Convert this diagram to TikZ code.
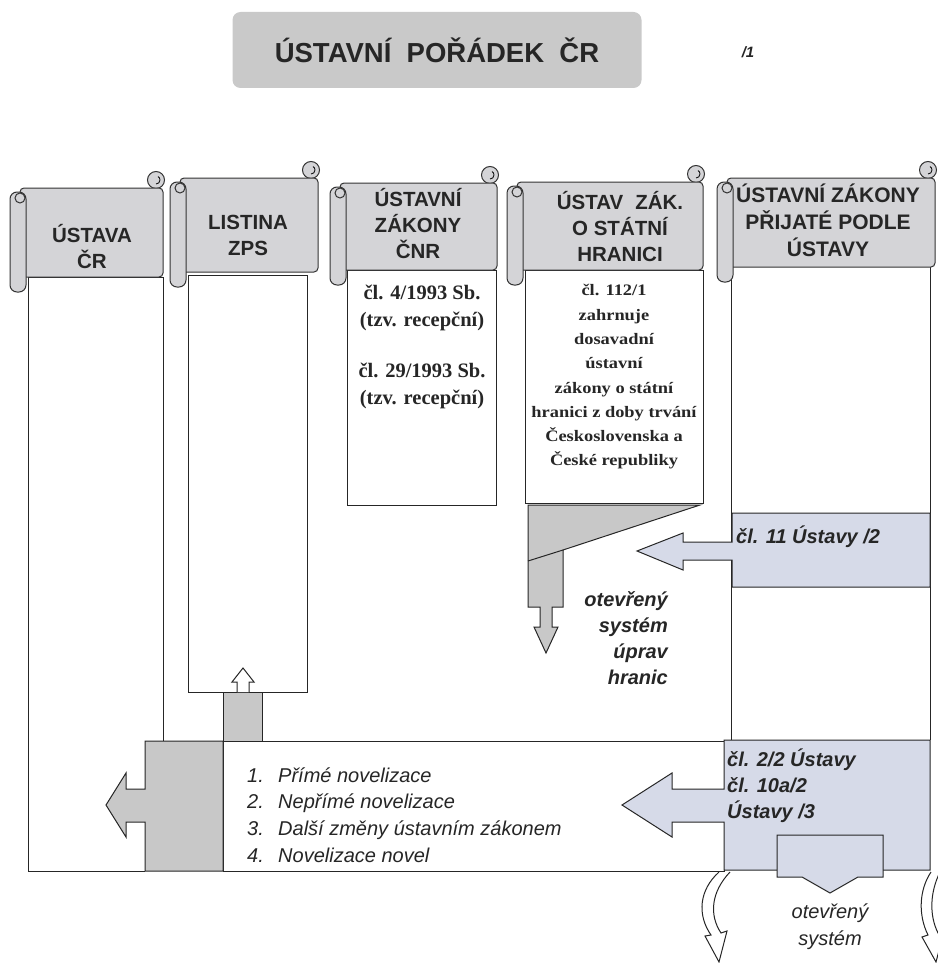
\documentclass[tikz,border=0pt]{standalone}
\usepackage{fontspec}
\setmainfont{Liberation Sans}
\newfontfamily\lawfont{Liberation Serif}
\newfontfamily\lawwide[FakeStretch=1.15]{Liberation Serif}
\usetikzlibrary{positioning}
\definecolor{titlegray}{HTML}{C9C9C9}
\definecolor{scrollgray}{HTML}{D4D4D7}
\definecolor{arrowgray}{HTML}{C8C8C8}
\definecolor{bandblue}{HTML}{D6DAE8}
\tikzstyle{titlebox} = [rectangle, rounded corners=8pt, fill=titlegray, minimum width=409pt, minimum height=76pt, font=\bfseries\fontsize{27.5}{30}\selectfont, text=black!85]
\tikzstyle{colbox} = [draw=black!85, fill=white, line width=1pt]
\tikzstyle{scrollpart} = [draw=black!80, fill=scrollgray, line width=1pt]
\tikzstyle{grayblock} = [draw=black!85, fill=arrowgray, line width=1pt]
\tikzstyle{blueblock} = [draw=black!85, fill=bandblue, line width=1pt]
\tikzstyle{headtext} = [font=\bfseries\fontsize{20.5}{26}\selectfont, align=center, text=black!85]
\tikzstyle{lawtext} = [font=\lawfont\bfseries\fontsize{20.5}{27}\selectfont, align=center, text=black!85]
\tikzstyle{lawwidetext} = [font=\lawwide\bfseries\fontsize{16}{24.3}\selectfont, align=center, text=black!85]
\tikzstyle{notetext} = [font=\bfseries\itshape\fontsize{20}{26}\selectfont, text=black!85, inner sep=2pt]
\tikzstyle{listtext} = [font=\itshape\fontsize{20}{26.7}\selectfont, text=black!85, inner sep=2pt]
% scroll header: left, right, top, bottom
\newcommand{\scrollhead}[4]{%
  \draw[scrollpart] (#2-7,#3-8) circle (8.5);
  \draw[line width=0.8pt] (#2-7,#3-4) arc[start angle=90, end angle=-60, radius=4];
  \draw[scrollpart, rounded corners=4pt] (#1+10,#3) -- (#2,#3) -- (#2,#4) -- (#1+10,#4) -- cycle;
  \draw[scrollpart, rounded corners=7pt] (#1,#3+4) rectangle (#1+16,#4+15);
  \draw[scrollpart] (#1+10,#3+10) circle (5);
}

\begin{document}
\begin{tikzpicture}[x=1pt, y=-1pt, node distance=25pt]
    \useasboundingbox (0,0) rectangle (937,963);

    \node (title) [titlebox] at (437,50) {ÚSTAVNÍ\ \ POŘÁDEK\ \ ČR};
    \node (pagenum) [font=\bfseries\itshape\fontsize{15}{18}\selectfont, text=black!85] at (748,52) {/1};

    % column boxes
    \draw[colbox] (163,741) -- (163,277) -- (28,277) -- (28,871) -- (145,871);
    \draw[colbox] (188,275) rectangle (307,692);
    \draw[colbox] (347,270) rectangle (496,505);
    \draw[colbox] (525,270) rectangle (703,503);
    \draw[colbox] (731,740) -- (731,265) -- (930,265) -- (930,740);
    \draw[colbox] (223,741) rectangle (724,871);

    % novelizace -> ustava, listina
    \draw[grayblock] (223,741) -- (145,741) -- (145,789) -- (126,789) -- (126,773) -- (106,805) -- (126,837) -- (126,822) -- (145,822) -- (145,871) -- (223,871) -- cycle;
    \draw[grayblock] (223,741) rectangle (262,692);
    \draw[colbox] (237,692) -- (237,682) -- (232,682) -- (243,668) -- (254,682) -- (249,682) -- (249,692);

    % hranice wedge
    \draw[grayblock] (528,505) -- (700,505) -- (563,550) -- (563,607) -- (552,607) -- (552,627) -- (558,627) -- (546,653) -- (534,627) -- (540,627) -- (540,607) -- (528,607) -- cycle;
    \draw[line width=1pt, draw=black!85] (563,550) -- (528,561);

    % cl. 11 band
    \draw[blueblock] (930,513) -- (732,513) -- (732,542) -- (683,542) -- (683,533) -- (637,551) -- (683,570) -- (683,560) -- (732,560) -- (732,587) -- (930,587) -- cycle;

    % cl. 2/2 and 10a/2 block
    \draw[blueblock] (930,740) -- (724,740) -- (724,789) -- (672,789) -- (672,773) -- (622,805) -- (672,837) -- (672,822) -- (724,822) -- (724,870) -- (930,870) -- cycle;
    \draw[blueblock] (777,835) -- (883,835) -- (883,877) -- (858,877) -- (830,893) -- (802,877) -- (777,877) -- cycle;

    % curled arrows
    \draw[colbox] (719,872) .. controls (699,890) and (697,915) .. (711,935) -- (705,936) -- (719,962) -- (727,931) -- (721,933) .. controls (709,915) and (711,892) .. (730,872);
    \draw[colbox] (931,872) .. controls (919,890) and (918,915) .. (928,935) -- (922,937) -- (936,962) -- (944,931) -- (938,933) .. controls (929,915) and (930,892) .. (940,872);

    % scroll headers
    \scrollhead{10}{163}{188}{277}
    \scrollhead{170}{318}{178}{272}
    \scrollhead{330}{497}{183}{270}
    \scrollhead{507}{703}{182}{270}
    \scrollhead{717}{935}{178}{267}

    \node (headUstava) [headtext] at (92,247) {ÚSTAVA\\ČR};
    \node (headListina) [headtext] at (248,235) {LISTINA\\ZPS};
    \node (headCnr) [headtext] at (418,224) {ÚSTAVNÍ\\ZÁKONY\\ČNR};
    \node (headHranice) [headtext] at (620,227) {ÚSTAV\hspace{12pt}ZÁK.\\O STÁTNÍ\\HRANICI};
    \node (headPrijate) [headtext, font=\bfseries\fontsize{21}{27}\selectfont] at (828,220) {ÚSTAVNÍ ZÁKONY\\PŘIJATÉ PODLE\\ÚSTAVY};

    \node (cnrA) [lawtext] at (422,308) {čl. 4/1993 Sb.\\(tzv. recepční)};
    \node (cnrB) [lawtext, below=of cnrA] {čl. 29/1993 Sb.\\(tzv. recepční)};
    \node (hraniceText) [lawwidetext] at (614,377) {čl. 112/1\\zahrnuje\\dosavadní\\ústavní\\zákony o státní\\hranici z doby trvání\\Československa a\\České republiky};

    \node (upravy) [notetext, anchor=east, align=right] at (670,638) {otevřený\\systém\\úprav\\hranic};
    \node (cl11) [notetext, anchor=west] at (734,537) {čl. 11 Ústavy /2};
    \node (cl2) [notetext, anchor=west, align=left] at (725,786) {čl. 2/2 Ústavy\\čl. 10a/2\\Ústavy /3};
    \node (novely) [listtext, anchor=west, align=left] at (245,815) {\makebox[31pt][l]{1.}Přímé novelizace\\\makebox[31pt][l]{2.}Nepřímé novelizace\\\makebox[31pt][l]{3.}Další změny ústavním zákonem\\\makebox[31pt][l]{4.}Novelizace novel};
    \node (otevreny) [listtext, align=center] at (830,927) {otevřený\\systém};

\end{tikzpicture}
\end{document}
